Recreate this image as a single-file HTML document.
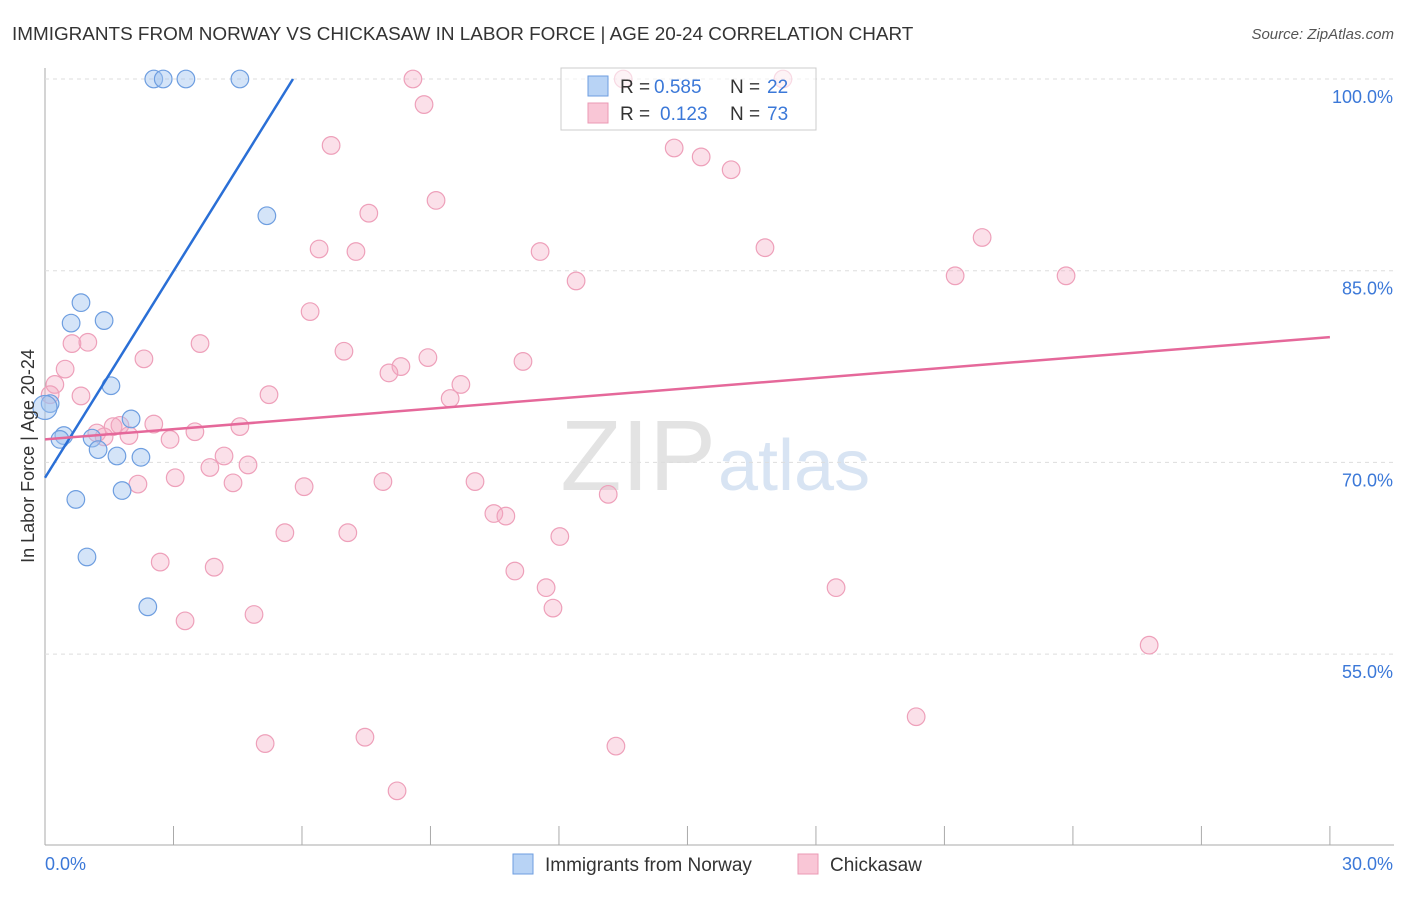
<!DOCTYPE html>
<html><head><meta charset="utf-8"><style>
body{margin:0;background:#fff;font-family:"Liberation Sans",sans-serif;}
svg text{font-family:"Liberation Sans",sans-serif;}
</style></head><body>
<svg id="chart" width="1406" height="892">
<text x="12" y="40" font-size="18.9" fill="#333">IMMIGRANTS FROM NORWAY VS CHICKASAW IN LABOR FORCE | AGE 20-24 CORRELATION CHART</text>
<text x="1394" y="39" font-size="15" fill="#555" font-style="italic" text-anchor="end">Source: ZipAtlas.com</text>
<text x="716" y="490" font-size="100" fill="#e3e3e3" text-anchor="end" font-family="Liberation Serif">ZIP</text>
<text x="718" y="490" font-size="72" fill="#d8e4f3">atlas</text>
<g id="grid"></g><g id="pts"></g><g id="lines"></g>
<text transform="translate(34,456) rotate(-90)" font-size="18" fill="#333" text-anchor="middle">In Labor Force | Age 20-24</text>
<text x="45" y="870" font-size="18" fill="#3b78d8">0.0%</text>
<text x="1393" y="870" font-size="18" fill="#3b78d8" text-anchor="end">30.0%</text>
<g>
<rect x="561" y="68" width="255" height="62" fill="#fff" fill-opacity="0.6" stroke="#ccc"/>
<rect x="588" y="76" width="20" height="20" fill="#b8d3f5" stroke="#6e9ee0"/>
<rect x="588" y="103" width="20" height="20" fill="#f9c6d6" stroke="#eb9ab4"/>
<text x="620" y="93" font-size="19" fill="#333">R =</text>
<text x="654" y="93" font-size="19" fill="#3b78d8">0.585</text>
<text x="730" y="93" font-size="19" fill="#333">N =</text>
<text x="767" y="93" font-size="19" fill="#3b78d8">22</text>
<text x="620" y="120" font-size="19" fill="#333">R =</text>
<text x="660" y="120" font-size="19" fill="#3b78d8">0.123</text>
<text x="730" y="120" font-size="19" fill="#333">N =</text>
<text x="767" y="120" font-size="19" fill="#3b78d8">73</text>
</g>
<g>
<rect x="513" y="854" width="20" height="20" fill="#b8d3f5" stroke="#6e9ee0"/>
<text x="545" y="871" font-size="19" fill="#333">Immigrants from Norway</text>
<rect x="798" y="854" width="20" height="20" fill="#f9c6d6" stroke="#eb9ab4"/>
<text x="830" y="871" font-size="19" fill="#333">Chickasaw</text>
</g>
</svg>
<script>
const yTicks=[100,85,70,55];
const yTickLabels=["100.0%","85.0%","70.0%","55.0%"];
const xTicks=[0,3,6,9,12,15,18,21,24,27,30];
const blueX=[2.54,2.76,3.29,4.55,5.18,0.84,0.61,1.38,1.54,0.12,0.0,0.44,0.35,1.10,1.24,1.68,2.24,2.01,0.72,1.80,0.98,2.40];
const blueY=[100,100,100,100,89.3,82.5,80.9,81.1,76.0,74.6,74.3,72.1,71.8,71.9,71.0,70.5,70.4,73.4,67.1,67.8,62.6,58.7];
const pinkX=[8.59,13.5,17.23,8.85,6.68,14.69,15.32,16.02,7.56,9.13,6.4,7.26,11.56,16.81,21.88,12.4,21.25,23.84,6.19,0.63,1.0,3.62,2.31,6.98,8.94,11.16,8.31,8.03,0.47,0.23,0.12,0.84,9.71,9.46,5.23,2.54,1.75,1.59,1.21,1.38,1.96,2.92,3.5,4.55,4.18,3.85,4.74,3.04,2.17,4.39,6.05,7.89,10.04,13.15,10.48,10.76,5.6,7.07,12.02,2.69,3.95,10.97,11.7,18.47,11.86,3.27,4.88,25.78,20.34,5.14,7.47,13.33,8.22];
const pinkY=[100,100,100,98.0,94.8,94.6,93.9,92.9,89.5,90.5,86.7,86.5,86.5,86.8,87.6,84.2,84.6,84.6,81.8,79.3,79.4,79.3,78.1,78.7,78.2,77.9,77.5,77.0,77.3,76.1,75.3,75.2,76.1,75.0,75.3,73.0,72.9,72.8,72.3,72.0,72.1,71.8,72.4,72.8,70.5,69.6,69.8,68.8,68.3,68.4,68.1,68.5,68.5,67.5,66.0,65.8,64.5,64.5,64.2,62.2,61.8,61.5,60.2,60.2,58.6,57.6,58.1,55.7,50.1,48.0,48.5,47.8,44.3];
const blueTrendX=[0,5.79];const blueTrendY=[68.8,100];
const pinkTrendX=[0,30];const pinkTrendY=[71.8,79.8];
const X=v=>45+v*42.83, Y=v=>79+(100-v)*12.78;
const NS="http://www.w3.org/2000/svg";
function mk(t,a,p){const e=document.createElementNS(NS,t);for(const k in a)e.setAttribute(k,a[k]);p.appendChild(e);return e;}
const g=document.getElementById('grid');
mk('line',{x1:45,y1:68,x2:45,y2:845,stroke:'#aaa'},g);
mk('line',{x1:45,y1:845,x2:1394,y2:845,stroke:'#aaa'},g);
yTicks.forEach((v,i)=>{
 const l=mk('line',{x1:45,y1:Y(v),x2:1394,y2:Y(v),stroke:'#ddd','stroke-dasharray':'4,4'},g);
 
 
 const t=mk('text',{x:1393,y:Y(v)+24,'font-size':18,fill:'#3b78d8','text-anchor':'end'},g);t.textContent=yTickLabels[i];
 
 
});
xTicks.forEach(v=>{const l=mk('line',{x1:X(v),y1:826,x2:X(v),y2:845,stroke:'#aaa'},g);
 
 });
const p=document.getElementById('pts');
pinkX.forEach((x,i)=>{const c=mk('circle',{cx:X(x),cy:Y(pinkY[i]),r:8.8,fill:'rgba(244,167,192,0.35)',stroke:'#eea0ba','stroke-width':1.2},p);
 
 });
blueX.forEach((x,i)=>{const c=mk('circle',{cx:X(x),cy:Y(blueY[i]),r:i==10?12:8.8,fill:'rgba(160,195,240,0.45)',stroke:'#6e9ee0','stroke-width':1.2},p);
 
 });
const L=document.getElementById('lines');
const bl=mk('line',{x1:X(blueTrendX[0]),y1:Y(blueTrendY[0]),x2:X(blueTrendX[1]),y2:Y(blueTrendY[1]),stroke:'#2a6fd6','stroke-width':2.5},L);


const pl=mk('line',{x1:X(pinkTrendX[0]),y1:Y(pinkTrendY[0]),x2:X(pinkTrendX[1]),y2:Y(pinkTrendY[1]),stroke:'#e5689a','stroke-width':2.5},L);


</script>
</body></html>
